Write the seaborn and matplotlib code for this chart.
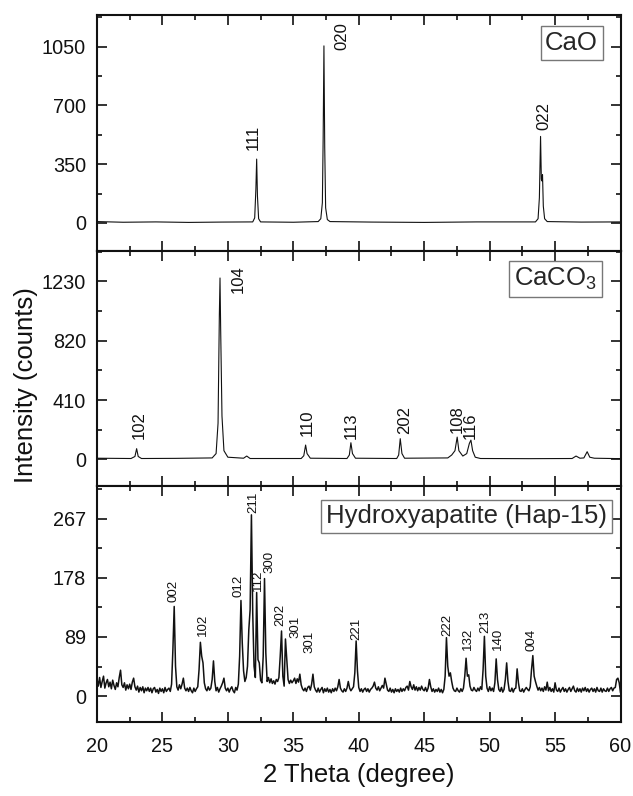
import numpy as np
import seaborn as sns
import matplotlib.pyplot as plt
from matplotlib.ticker import MultipleLocator

# XRD patterns of CaO, CaCO3 and hydroxyapatite (Hap-15)

sns.set_theme(style="ticks")
plt.rcParams['font.family'] = ['Liberation Sans', 'DejaVu Sans']
plt.rcParams['mathtext.fontset'] = 'custom'
plt.rcParams['mathtext.rm'] = 'Liberation Sans'
plt.rcParams['mathtext.default'] = 'regular'

# # Data
# CaO (top panel)
cao_tt = [20.0, 22.0, 24.5, 27.0, 29.5, 31.9, 32.05, 32.14, 32.2, 32.26, 32.35,
          32.5, 35.0, 36.9, 37.1, 37.22, 37.28, 37.34, 37.4, 37.47, 37.6, 37.8,
          41.0, 45.0, 49.0, 53.5, 53.7, 53.8, 53.89, 53.95, 53.99, 54.04,
          54.1, 54.2, 54.4, 57.0, 60.0]
cao_int = [8, 4, 6, 3, 5, 6, 30, 200, 380, 160, 25,
           6, 4, 8, 25, 120, 500, 1054, 450, 90, 20, 8,
           5, 3, 6, 6, 25, 150, 515, 260, 250, 287,
           100, 25, 8, 5, 6]

# CaCO3 (middle panel)
caco3_tt = [20.0, 22.6, 22.9, 23.03, 23.15, 23.4, 26.0, 28.8, 29.1, 29.25,
            29.35, 29.4, 29.45, 29.55, 29.7, 30.0, 31.2, 31.44, 31.7, 35.6,
            35.8, 35.94, 36.05, 36.3, 39.1, 39.28, 39.4, 39.52, 39.75, 42.9,
            43.05, 43.17, 43.3, 43.5, 46.8, 47.1, 47.35, 47.52, 47.65, 47.95,
            48.25, 48.45, 48.57, 48.7, 48.9, 49.3, 53.0, 56.3, 56.6, 56.9,
            57.2, 57.45, 57.65, 58.0, 60.0]
caco3_int = [8, 6, 20, 74, 20, 6, 7, 10, 40, 250,
             1000, 1253, 900, 300, 60, 15, 8, 23, 6, 6,
             25, 99, 40, 8, 6, 30, 115, 40, 8, 6,
             30, 143, 40, 8, 10, 30, 60, 154, 60, 23,
             40, 110, 133, 60, 15, 6, 5, 6, 23, 8,
             10, 53, 15, 8, 5]

# Hydroxyapatite (bottom panel), scan step 0.1 degree, one row per degree
hap_rows = [
    [26, 15, 28, 13, 22, 30, 12, 20, 25, 14],   # 20
    [21, 11, 24, 16, 10, 20, 14, 28, 39, 17],   # 21
    [13, 20, 9, 17, 11, 18, 10, 21, 27, 14],    # 22
    [9, 15, 6, 13, 8, 14, 5, 12, 8, 13],        # 23
    [7, 12, 5, 11, 13, 6, 10, 4, 12, 7],        # 24
    [11, 5, 13, 7, 10, 12, 7, 18, 70, 135],     # 25
    [45, 14, 9, 17, 11, 18, 27, 12, 8, 12],     # 26
    [7, 13, 8, 5, 12, 7, 11, 14, 40, 81],       # 27
    [60, 50, 20, 11, 8, 14, 9, 12, 25, 53],     # 28
    [22, 8, 13, 6, 11, 15, 20, 27, 12, 8],      # 29
    [12, 6, 11, 14, 8, 5, 13, 9, 18, 60],       # 30
    [144, 80, 38, 22, 28, 45, 100, 130, 273, 125],  # 31
    [45, 28, 156, 55, 50, 24, 20, 60, 177, 65],  # 32
    [22, 28, 20, 26, 19, 23, 18, 25, 22, 28],   # 33
    [60, 98, 30, 15, 86, 55, 25, 19, 24, 20],   # 34
    [23, 27, 19, 26, 21, 33, 17, 11, 8, 12],    # 35
    [7, 13, 15, 9, 18, 33, 14, 9, 6, 12],       # 36
    [6, 10, 13, 5, 11, 7, 12, 6, 10, 5],        # 37
    [11, 7, 12, 8, 14, 25, 12, 8, 6, 11],       # 38
    [7, 12, 22, 12, 8, 11, 14, 35, 83, 38],     # 39
    [13, 7, 11, 6, 10, 12, 7, 11, 6, 10],       # 40
    [12, 15, 21, 12, 9, 14, 8, 12, 16, 12],     # 41
    [27, 18, 9, 7, 12, 6, 10, 5, 11, 7],        # 42
    [10, 6, 12, 7, 11, 8, 13, 15, 9, 22],       # 43
    [14, 10, 17, 9, 14, 8, 13, 9, 15, 10],      # 44
    [8, 13, 7, 12, 25, 14, 7, 11, 6, 10],       # 45
    [7, 12, 6, 10, 5, 10, 30, 88, 45, 30],      # 46
    [35, 22, 12, 8, 7, 12, 8, 6, 11, 7],        # 47
    [12, 30, 57, 30, 32, 15, 9, 8, 13, 9],      # 48
    [7, 12, 8, 14, 10, 40, 90, 30, 12, 7],      # 49
    [14, 8, 12, 7, 20, 56, 25, 10, 7, 13],      # 50
    [6, 10, 25, 50, 22, 8, 7, 12, 6, 11],       # 51
    [12, 41, 20, 8, 7, 11, 6, 10, 13, 10],      # 52
    [8, 14, 40, 61, 30, 22, 15, 9, 13, 8],      # 53
    [12, 7, 14, 9, 21, 8, 13, 7, 11, 6],        # 54
    [20, 9, 7, 12, 6, 10, 13, 7, 11, 6],        # 55
    [10, 13, 7, 11, 15, 8, 6, 12, 7, 11],       # 56
    [6, 12, 8, 13, 7, 11, 6, 10, 12, 7],        # 57
    [11, 6, 13, 8, 7, 12, 6, 11, 8, 7],         # 58
    [12, 7, 11, 13, 8, 12, 13, 25, 27, 20],     # 59
    [5],                                        # 60
]
hap_int = [v for row in hap_rows for v in row]
hap_tt = np.linspace(20.0, 60.0, len(hap_int))

# Peak labels (hkl, 2theta, intensity at label foot)
cao_labels = [('111', 31.95, 436), ('020', 38.69, 1030), ('022', 54.12, 555)]
caco3_labels = [('102', 23.2, 140), ('104', 30.8, 1150), ('110', 36.1, 160),
                ('113', 39.45, 138), ('202', 43.5, 172), ('108', 47.5, 184),
                ('116', 48.5, 138)]
hap_labels = [('002', 25.88, 141), ('102', 28.06, 90), ('012', 30.85, 150),
              ('211', 31.94, 276), ('112', 32.32, 158), ('300', 33.14, 186),
              ('202', 33.98, 105), ('301', 35.13, 88), ('301', 36.27, 65),
              ('221', 39.84, 85), ('222', 46.78, 91), ('132', 48.37, 70),
              ('213', 49.64, 95), ('140', 50.66, 70), ('004', 53.2, 68)]

# Panel settings
names = ['CaO', 'CaCO$_3$', 'Hydroxyapatite (Hap-15)']
name_pos = [(0.957, 0.881), (0.955, 0.880), (0.974, 0.873)]
yticks = [[0, 350, 700, 1050], [0, 410, 820, 1230], [0, 89, 178, 267]]
ylims = [(-165, 1238), (-186, 1442), (-39, 316)]

fig = plt.figure(figsize=(6.33, 7.96), dpi=100)
axes = fig.subplots(3, 1, sharex=True)
fig.subplots_adjust(left=0.1532, right=0.9803, top=0.9812, bottom=0.0930,
                    hspace=0)

data = [(cao_tt, cao_int, cao_labels, 12, 0.8),
        (caco3_tt, caco3_int, caco3_labels, 12, 0.8),
        (hap_tt, hap_int, hap_labels, 9.5, 1.1)]

for i, ax in enumerate(axes):
    tt, inten, labs, lfs, lw = data[i]
    sns.lineplot(x=tt, y=inten, ax=ax, color='#111111', lw=lw,
                 sort=False, estimator=None)
    for txt, xx, yy in labs:
        ax.text(xx, yy, txt, rotation=90, ha='center', va='bottom',
                fontsize=lfs, color='#111111')
    ax.text(name_pos[i][0], name_pos[i][1], names[i], transform=ax.transAxes,
            ha='right', va='center', fontsize=18.5,
            bbox=dict(boxstyle='square,pad=0.18', fc='white', ec='#777777',
                      lw=1.0))
    ax.set_ylim(*ylims[i])
    ax.set_yticks(yticks[i])
    ax.yaxis.set_minor_locator(MultipleLocator(yticks[i][1] / 2))
    ax.set_xlim(20, 60)
    ax.xaxis.set_major_locator(MultipleLocator(5))
    ax.xaxis.set_minor_locator(MultipleLocator(2.5))
    ax.tick_params(which='both', direction='in', top=True, right=True,
                   width=1.2, color='#111111', labelsize=14.3,
                   labelcolor='#111111', pad=8)
    ax.tick_params(axis='x', pad=11)
    ax.tick_params(which='major', length=7)
    ax.tick_params(which='minor', length=3.5)
    ax.set_xlabel('')
    ax.set_ylabel('')
    for sp in ax.spines.values():
        sp.set_linewidth(1.5)
        sp.set_color('#111111')

fig.text(26 / 633, 0.516, 'Intensity (counts)', rotation=90, ha='center',
         va='center', fontsize=18.5, color='#111111')
fig.text(0.567, 0.0264, '2 Theta (degree)', ha='center', va='center',
         fontsize=18.5, color='#111111')

fig.savefig('out.png', dpi=100)
